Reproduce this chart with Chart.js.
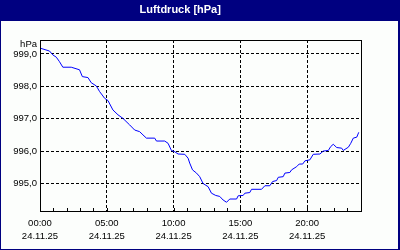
<!DOCTYPE html>
<html>
<head>
<meta charset="utf-8">
<script src="https://cdn.jsdelivr.net/npm/chart.js@4/dist/chart.umd.min.js"></script>
<style>
  body { margin: 0; background: #fff; }
  canvas { display: block; }
</style>
</head>
<body>
<canvas id="pressureChart" width="400" height="250"></canvas>
<script>
// Stunden seit 00:00 und Luftdruck in hPa
const hours = [
  0.00, 0.71, 0.96, 1.22, 1.46, 1.71, 2.34, 2.96, 3.17, 3.59,
  3.84, 4.22, 4.46, 4.84, 5.09, 5.46, 5.84, 6.21, 6.71, 7.09,
  7.46, 7.71, 7.97, 8.59, 8.72, 9.34, 9.59, 9.84, 10.09, 10.34,
  10.84, 11.09, 11.21, 11.42, 11.72, 11.96, 12.21, 12.59, 12.84, 13.16,
  13.46, 13.71, 13.97, 14.21, 14.72, 14.84, 15.21, 15.34, 15.71, 15.84,
  16.59, 16.84, 17.21, 17.42, 17.72, 17.84, 18.21, 18.34, 18.71, 18.84,
  19.22, 19.41, 19.67, 19.84, 20.21, 20.46, 20.96, 21.21, 21.59, 21.77,
  21.96, 22.22, 22.59, 22.71, 23.09, 23.27, 23.46, 23.72, 23.87
];
const pressure = [
  999.18, 999.09, 998.97, 998.90, 998.76, 998.59, 998.59, 998.51, 998.30, 998.27,
  998.11, 998.01, 997.84, 997.63, 997.56, 997.27, 997.12, 997.01, 996.81, 996.65,
  996.60, 996.50, 996.40, 996.40, 996.31, 996.31, 996.24, 996.02, 995.98, 995.91,
  995.90, 995.78, 995.63, 995.42, 995.32, 995.21, 995.00, 994.90, 994.70, 994.63,
  994.60, 994.49, 994.42, 994.52, 994.52, 994.62, 994.63, 994.70, 994.72, 994.82,
  994.82, 994.93, 994.93, 995.06, 995.09, 995.19, 995.21, 995.32, 995.34, 995.42,
  995.52, 995.60, 995.60, 995.70, 995.73, 995.90, 995.91, 996.00, 996.02, 996.14,
  996.21, 996.11, 996.09, 996.02, 996.12, 996.24, 996.40, 996.43, 996.58
];
const timeLabels = ['00:00', '05:00', '10:00', '15:00', '20:00'];
const dateLabel = '24.11.25';
const unitLabel = 'hPa';

const points = hours.map((h, i) => ({ x: h, y: pressure[i] }));

// Rahmen, Minor-Ticks und Einheit
const framePlugin = {
  id: 'frame',
  beforeDraw(chart) {
    const c = chart.ctx;
    c.save();
    c.fillStyle = '#000080';
    c.fillRect(0, 0, chart.width, chart.height);
    c.fillStyle = '#fcfefc';
    c.fillRect(1, 21, 397, 228);
    c.restore();
  },
  afterDraw(chart) {
    const c = chart.ctx;
    const a = chart.chartArea;
    const xs = chart.scales.x;
    c.save();
    c.strokeStyle = '#000';
    c.lineWidth = 1;
    c.strokeRect(Math.round(a.left) + 0.5, Math.round(a.top) + 0.5,
      Math.round(a.right - a.left), Math.round(a.bottom - a.top));
    c.beginPath();
    for (let h = 1; h < 24; h++) {
      const px = Math.round(xs.getPixelForValue(h)) + 0.5;
      c.moveTo(px, a.bottom);
      c.lineTo(px, a.bottom - 3);
    }
    c.stroke();
    c.fillStyle = '#000';
    c.font = '9.5px "Liberation Sans"';
    c.textAlign = 'right';
    c.textBaseline = 'middle';
    c.fillText(unitLabel, a.left - 3, a.top + 4);
    c.restore();
  }
};

const config = {
  type: 'line',
  data: {
    datasets: [{
      data: points,
      borderColor: '#0000ff',
      borderWidth: 1,
      pointRadius: 0,
      tension: 0,
      fill: false
    }]
  },
  options: {
    responsive: false,
    animation: false,
    layout: { padding: { top: 0, right: 39.5, bottom: 0, left: 0 } },
    plugins: {
      legend: { display: false },
      tooltip: { enabled: false },
      title: {
        display: true,
        text: 'Luftdruck [hPa]',
        color: '#ffffff',
        font: { family: '"Liberation Sans"', size: 11, weight: 'bold' },
        padding: { top: 3, bottom: 23.8 }
      }
    },
    scales: {
      x: {
        type: 'linear',
        min: 0,
        max: 24,
        afterFit: s => { s.height = 39; },
        ticks: {
          stepSize: 1,
          autoSkip: false,
          maxRotation: 0,
          padding: 5,
          color: '#000',
          font: { family: '"Liberation Sans"', size: 9.5, lineHeight: 1.45 },
          callback: v => (v % 5 === 0 && v < 24) ? [timeLabels[v / 5], dateLabel] : ''
        },
        grid: {
          drawTicks: false,
          color: ctx => {
            const v = ctx.tick ? ctx.tick.value : 0;
            return (v % 5 === 0 && v > 0 && v < 24) ? '#000' : 'rgba(0,0,0,0)';
          }
        },
        border: { display: true, color: '#000', dash: [3, 2] }
      },
      y: {
        min: 994.15,
        max: 999.43,
        afterFit: s => { s.width = 40; },
        ticks: {
          stepSize: 1,
          includeBounds: false,
          padding: 3,
          color: '#000',
          font: { family: '"Liberation Sans"', size: 9.5 },
          callback: v => v.toFixed(1).replace('.', ',')
        },
        grid: { drawTicks: false, color: '#000' },
        border: { display: true, color: '#000', dash: [3, 2] }
      }
    }
  },
  plugins: [framePlugin]
};

const ctx = document.getElementById('pressureChart').getContext('2d');
new Chart(ctx, config);
</script>
</body>
</html>
